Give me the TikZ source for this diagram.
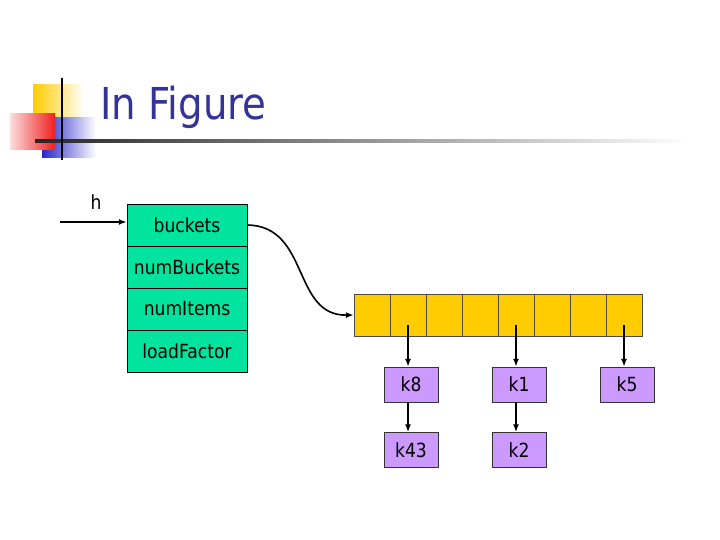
\documentclass[tikz,border=0pt]{standalone}
\usepackage{fontspec}
\newfontfamily\tahoma[FakeStretch=0.88]{DejaVu Sans}
\usepackage{xcolor}
\usepackage{tikz}
\usetikzlibrary{arrows.meta,positioning,calc}

\definecolor{titleblue}{RGB}{51,51,153}
\definecolor{mint}{RGB}{0,228,160}
\definecolor{gold}{RGB}{255,204,0}
\definecolor{lilac}{RGB}{204,153,255}
\definecolor{deco blue}{RGB}{40,40,200}
\definecolor{deco red}{RGB}{240,30,30}

\begin{document}
\begin{tikzpicture}[x=1pt,y=-1pt,
    every node/.style={font=\tahoma\fontsize{19.5}{19.5}\selectfont,inner sep=0pt},
    field/.style ={rectangle,draw=black,fill=mint,minimum width=120pt,
                   minimum height=42pt},
    cell/.style  ={rectangle,draw=black!70,fill=gold,minimum width=36pt,
                   minimum height=42pt},
    key/.style   ={rectangle,draw=black!80,fill=lilac,minimum width=54pt,
                   minimum height=35pt},
    arr/.style={-{Latex[length=8pt,width=6pt]},black,line width=1.6pt},
  ]
  \useasboundingbox (0,0) rectangle (720,540);

  % Title decoration
  \shade[left color=gold,right color=gold!5] (33,85) rectangle (82,126);
  \shade[left color=deco blue,right color=white] (42,118) rectangle (96,158);
  \shade[left color=deco red!15,right color=deco red] (10,114) rectangle (55,150);
  \shade[left color=black!85,right color=white] (35,140) rectangle (690,142.5);
  \draw[black,line width=1.4pt] (62,78) -- (62,160);
  \node[anchor=base west,text=titleblue,
        font=\tahoma\fontsize{44}{44}\selectfont] (title) at (100,120) {In Figure};

  % Hash table record
  \node[field] (bk) at (187,225) {buckets};
  \node[field] (nb) at (187,267) {numBuckets};
  \node[field] (ni) at (187,309) {numItems};
  \node[field] (lf) at (187,351) {loadFactor};

  % Pointer h
  \node (h) at (96,202) {h};
  \coordinate (hstart) at (60,222);
  \draw[arr] (hstart) -- (hstart -| bk.west);

  % Bucket array
  \foreach \i in {1,...,8}
    \node[cell] (c\i) at ({372+36*(\i-1)},315) {};

  \draw[arr] (bk.east) .. controls (310,226) and (292,316) .. (c1.west);

  % Chains
  \node[key] (k8)  at (411,384.5) {k8};
  \node[key] (k1)  at (519,384.5) {k1};
  \node[key] (k5)  at (627,384.5) {k5};
  \node[key] (k43) at (411,450) {k43};
  \node[key] (k2)  at (519,450) {k2};

  \draw[arr] ($(c2.center)+(0,10)$) -- (c2.center |- k8.north);
  \draw[arr] ($(c5.center)+(0,10)$) -- (c5.center |- k1.north);
  \draw[arr] ($(c8.center)+(0,10)$) -- (c8.center |- k5.north);
  \draw[arr] (c2.center |- k8.south) -- (c2.center |- k43.north);
  \draw[arr] (c5.center |- k1.south) -- (c5.center |- k2.north);
\end{tikzpicture}
\end{document}
